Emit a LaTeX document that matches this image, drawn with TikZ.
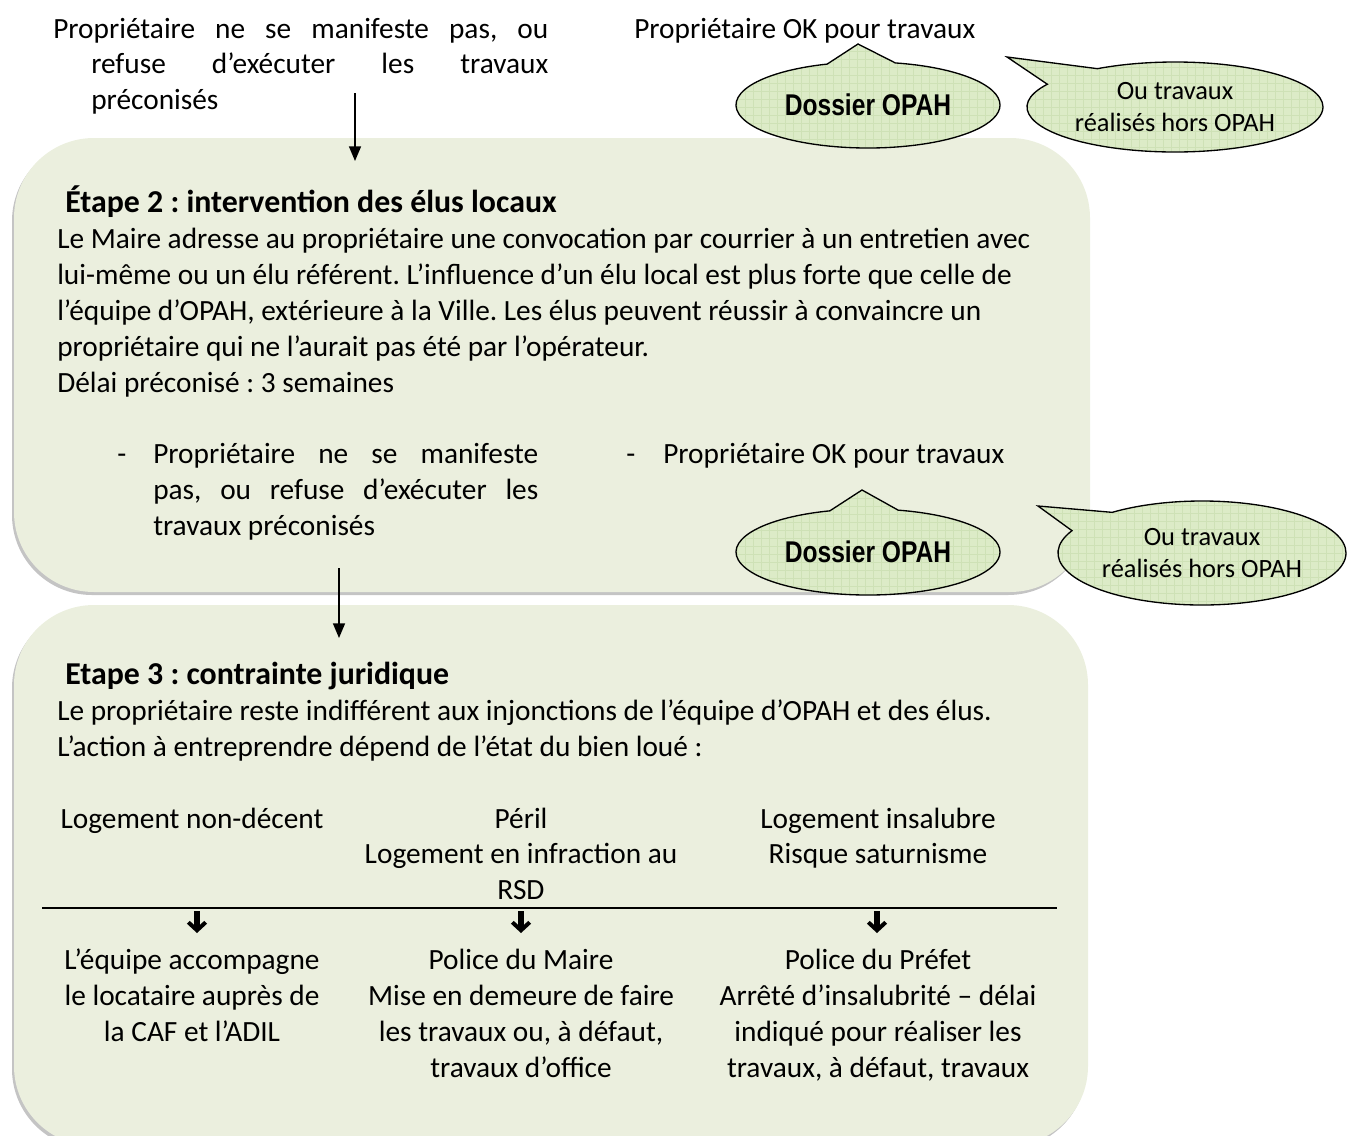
\documentclass[tikz,border=0pt]{standalone}
\usepackage{fontspec}
\setmainfont{Carlito}
\newfontfamily\dossierfont{Liberation Sans}[FakeStretch=0.82]
\usetikzlibrary{shapes.callouts,arrows.meta}
\definecolor{boxfill}{RGB}{235,239,222}
\definecolor{calfill}{RGB}{220,235,199}
\definecolor{gridc}{RGB}{206,225,182}
\definecolor{shadowc}{RGB}{196,196,196}
\frenchspacing
\newcommand\msz{\fontsize{22}{27}\selectfont}
\newcommand\tsz{\fontsize{23.9}{28}\selectfont}
\newcommand\csz{\fontsize{19.8}{24}\selectfont}
\newcommand\dsz{\dossierfont\bfseries\fontsize{22.5}{26}\selectfont}
\begin{document}
\begin{tikzpicture}[x=0.75pt,y=-0.75pt,
  txt/.style={anchor=base west, inner sep=0pt, font=\msz},
  ctr/.style={anchor=base, inner sep=0pt, font=\msz},
  ttl/.style={anchor=base west, inner sep=0pt, font=\tsz\bfseries},
  stepbox/.style={fill=boxfill, rounded corners=60pt},
  boxshadow/.style={fill=shadowc, rounded corners=60pt},
  bubble/.style={ellipse callout, draw=black, line width=1pt, fill=calfill,
    inner sep=0pt, callout pointer arc=30,
    path picture={\draw[gridc, line width=0.4pt, step=6pt]
      (path picture bounding box.south west) grid (path picture bounding box.north east);}},
  flow/.style={-{Triangle[length=11pt,width=9pt]}, line width=1.1pt},
  down/.style={-{Straight Barb[length=6pt,width=13pt,line width=3pt]}, line width=4pt}]

\useasboundingbox (0,0) rectangle (1348,1135);
\clip (0,0) rectangle (1348,1135);

% step boxes
\path[boxshadow] (12,141) rectangle (1088,595);
\path[stepbox] (14,138) rectangle (1090,592);
\path[boxshadow] (12,608) rectangle (1086,1149);
\path[stepbox] (14,605) rectangle (1088,1146);

% top texts
\node[txt] (p1a) at (53,38) {\makebox[371.25pt][s]{Propriétaire ne se manifeste pas, ou}};
\node[txt] (p1b) at (91,73) {\makebox[342.75pt][s]{refuse d’exécuter les travaux}};
\node[txt] (p1c) at (91,109) {préconisés};
\node[txt] (ok1) at (634,38) {Propriétaire OK pour travaux};

% top callouts
\node[bubble, minimum width=198pt, minimum height=64.5pt,
  callout absolute pointer={(858,44)}, font=\dsz] (dos1) at (868,105) {Dossier OPAH};
\node[bubble, minimum width=222pt, minimum height=67.5pt, callout pointer arc=28,
  callout absolute pointer={(1007,57)}, font=\csz, align=center] (hors1) at (1175,107)
  {Ou travaux\\[0pt]réalisés hors OPAH};

% arrow into step 2
\coordinate (a1s) at (355,93);
\coordinate (a1e) at (355,161);
\draw[flow] (a1s) -- (a1e);

% step 2
\node[ttl] (t2) at (65,212) {Étape 2 : intervention des élus locaux};
\node[txt] (b21) at (57,248) {Le Maire adresse au propriétaire une convocation par courrier à un entretien avec};
\node[txt] (b22) at (57,284) {lui-même ou un élu référent. L’influence d’un élu local est plus forte que celle de};
\node[txt] (b23) at (57,320) {l’équipe d’OPAH, extérieure à la Ville. Les élus peuvent réussir à convaincre un};
\node[txt] (b24) at (57,356) {propriétaire qui ne l’aurait pas été par l’opérateur.};
\node[txt] (b25) at (57,392) {Délai préconisé : 3 semaines};

\node[txt] (d1) at (117,463) {-};
\node[txt] (l1a) at (153,463) {\makebox[288.75pt][s]{Propriétaire ne se manifeste}};
\node[txt] (l1b) at (153,499) {\makebox[288.75pt][s]{pas, ou refuse d’exécuter les}};
\node[txt] (l1c) at (153,535) {travaux préconisés};
\node[txt] (d2) at (626,463) {-};
\node[txt] (ok2) at (663,463) {Propriétaire OK pour travaux};

% step 2 callouts
\node[bubble, minimum width=198pt, minimum height=64.5pt,
  callout absolute pointer={(862,490)}, font=\dsz] (dos2) at (868,552) {Dossier OPAH};
\node[bubble, minimum width=216pt, minimum height=78pt, callout pointer arc=26,
  callout absolute pointer={(1038,506)}, font=\csz, align=center] (hors2) at (1202,553)
  {Ou travaux\\[0pt]réalisés hors OPAH};

% arrow into step 3
\coordinate (a2s) at (339,568);
\coordinate (a2e) at (339,638);
\draw[flow] (a2s) -- (a2e);

% step 3
\node[ttl] (t3) at (65,684) {Etape 3 : contrainte juridique};
\node[txt] (b31) at (57,720) {Le propriétaire reste indifférent aux injonctions de l’équipe d’OPAH et des élus.};
\node[txt] (b32) at (57,756) {L’action à entreprendre dépend de l’état du bien loué :};

\node[ctr] (c1a) at (192,828) {Logement non-décent};
\node[ctr] (c2a) at (521,828) {Péril};
\node[ctr] (c2b) at (521,863) {Logement en infraction au};
\node[ctr] (c2c) at (521,899) {RSD};
\node[ctr] (c3a) at (878,828) {Logement insalubre};
\node[ctr] (c3b) at (878,863) {Risque saturnisme};

\coordinate (hl) at (42,908);
\coordinate (hr) at (1057,908);
\draw[line width=1.5pt] (hl) -- (hr);

\coordinate (k1s) at (197,911); \coordinate (k1e) at (197,933);
\coordinate (k2s) at (521,911); \coordinate (k2e) at (521,933);
\coordinate (k3s) at (877,911); \coordinate (k3e) at (877,933);
\draw[down] (k1s) -- (k1e);
\draw[down] (k2s) -- (k2e);
\draw[down] (k3s) -- (k3e);

\node[ctr] (r1a) at (192,969) {L’équipe accompagne};
\node[ctr] (r1b) at (192,1005) {le locataire auprès de};
\node[ctr] (r1c) at (192,1041) {la CAF et l’ADIL};
\node[ctr] (r2a) at (521,969) {Police du Maire};
\node[ctr] (r2b) at (521,1005) {Mise en demeure de faire};
\node[ctr] (r2c) at (521,1041) {les travaux ou, à défaut,};
\node[ctr] (r2d) at (521,1077) {travaux d’office};
\node[ctr] (r3a) at (878,969) {Police du Préfet};
\node[ctr] (r3b) at (878,1005) {Arrêté d’insalubrité – délai};
\node[ctr] (r3c) at (878,1041) {indiqué pour réaliser les};
\node[ctr] (r3d) at (878,1077) {travaux, à défaut, travaux};
\end{tikzpicture}
\end{document}
